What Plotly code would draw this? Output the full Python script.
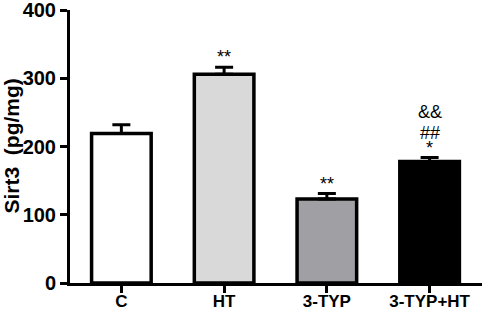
import plotly.graph_objects as go

categories = ["C", "HT", "3-TYP", "3-TYP+HT"]
values = [219, 306, 123, 178]
errors = [13, 10, 8, 6]
colors = ["#ffffff", "#d9d9d9", "#a0a0a4", "#000000"]
marks = [[], ["**"], ["**"], ["*", "##", "&&"]]
y_ticks = [0, 100, 200, 300, 400]

FONT = "Liberation Sans, Arial, Helvetica"

fig = go.Figure()
fig.add_trace(go.Bar(
    x=categories, y=values, width=0.58,
    marker=dict(color=colors, line=dict(color="black", width=3.5)),
    error_y=dict(type="data", array=errors, arrayminus=[0]*len(errors), symmetric=False,
                 color="black", thickness=3, width=9),
))

shifts = [9, 24, 45]
for cat, v, e, m in zip(categories, values, errors, marks):
    for i, s in enumerate(m):
        fig.add_annotation(x=cat, y=v + e, text=s, showarrow=False,
                           yshift=shifts[i] if len(m) > 1 else 10,
                           font=dict(family=FONT, size=18, color="black"))

fig.add_annotation(xref="paper", yref="paper", x=0, y=0.5, xshift=-59, xanchor="center",
                   yanchor="middle", text="Sirt3  (pg/mg)",
                   textangle=-90, showarrow=False,
                   font=dict(family=FONT, size=21, color="black", weight="bold"))

fig.update_layout(
    width=484, height=314, margin=dict(l=70, r=2, t=10, b=31),
    paper_bgcolor="white", plot_bgcolor="white", showlegend=False,
    font=dict(family=FONT, color="black"),
)
fig.update_xaxes(range=[-0.5, 3.51], showline=True, linecolor="black", linewidth=3,
                 ticks="outside", ticklen=7, tickwidth=3, tickcolor="black",
                 tickfont=dict(size=17, family=FONT, weight="bold"),
                 ticklabelstandoff=-6, automargin=False, ticklabeloverflow="allow",
                 showgrid=False, zeroline=False)
fig.update_yaxes(range=[0, 400], tickvals=y_ticks, showline=True, linecolor="black", linewidth=3,
                 ticks="outside", ticklen=7, tickwidth=3, tickcolor="black",
                 tickfont=dict(size=20, family=FONT, weight="bold"), automargin=False,
                 ticklabeloverflow="allow",
                 showgrid=False, zeroline=False)

fig.write_html("out.html", config={"displayModeBar": False, "staticPlot": True},
               post_script="document.body.style.margin='0';")
